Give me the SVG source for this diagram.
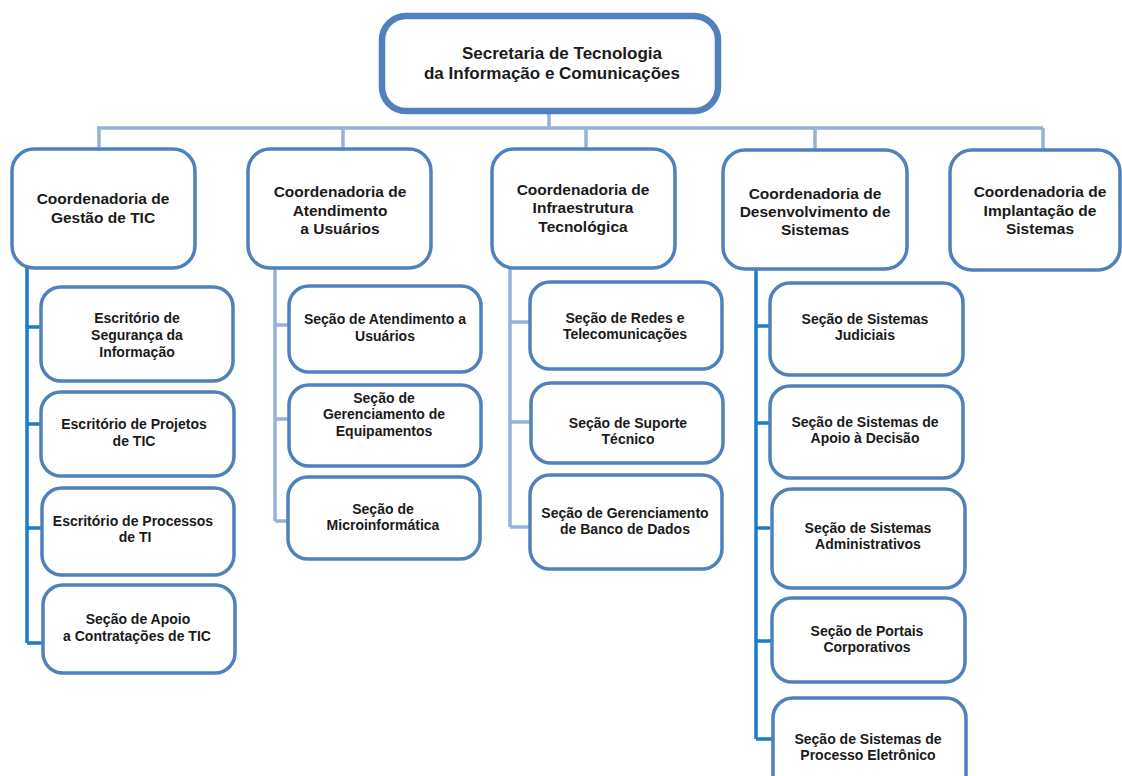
<svg xmlns="http://www.w3.org/2000/svg" width="1122" height="776" viewBox="0 0 1122 776">
<style>
  .box{fill:#ffffff;stroke:#4F81BD;stroke-width:3.5}
  .top{fill:#ffffff;stroke:#4F81BD;stroke-width:6.5}
  .lc{fill:none;stroke:#95B3D7;stroke-width:3.5}
  .dc{fill:none;stroke:#1C7CC8;stroke-width:3.5}
  text{font-family:"Liberation Sans",Arial,sans-serif;font-weight:bold;fill:#1a1a1a;text-anchor:middle}
  .t0{font-size:17px}
  .t1{font-size:15.5px}
  .t2{font-size:14px}
</style>
<rect width="1122" height="776" fill="#ffffff"/>
<g id="connectors">
  <path class="lc" d="M549 112V128M97 128H1043M99 128V150M343 128V150M586 128V150M815 128V150M1043 128V150"/>
  <path class="dc" d="M27 268V643M27 327H42M27 424H42M27 528H42M27 643H44"/>
  <path class="lc" d="M275 268V521M275 325H289M275 419H289M275 521H289"/>
  <path class="lc" d="M510 268V527M510 322H530M510 422H530M510 527H530"/>
  <path class="dc" d="M756 268V739M756 326H770M756 423H770M756 528H770M756 641H772M756 739H772"/>
</g>
<g id="n0"><rect class="top" x="382" y="16" width="336" height="95" rx="24"/>
  <text class="t0" x="562" y="59">Secretaria de Tecnologia</text>
  <text class="t0" x="552" y="79">da Informação e Comunicações</text></g>
<g id="c1"><rect class="box" x="12" y="149" width="183" height="119" rx="22"/>
  <text class="t1" x="103" y="204">Coordenadoria de</text>
  <text class="t1" x="103" y="223">Gestão de TIC</text></g>
<g id="c2"><rect class="box" x="248" y="149" width="183" height="119" rx="22"/>
  <text class="t1" x="340" y="197">Coordenadoria de</text>
  <text class="t1" x="340" y="216">Atendimento</text>
  <text class="t1" x="340" y="234">a Usuários</text></g>
<g id="c3"><rect class="box" x="492" y="149" width="183" height="119" rx="22"/>
  <text class="t1" x="583" y="195">Coordenadoria de</text>
  <text class="t1" x="583" y="213">Infraestrutura</text>
  <text class="t1" x="583" y="232">Tecnológica</text></g>
<g id="c4"><rect class="box" x="723" y="150" width="184" height="119" rx="22"/>
  <text class="t1" x="815" y="199">Coordenadoria de</text>
  <text class="t1" x="815" y="217">Desenvolvimento de</text>
  <text class="t1" x="815" y="235">Sistemas</text></g>
<g id="c5"><rect class="box" x="950" y="150" width="170" height="120" rx="22"/>
  <text class="t1" x="1040" y="197">Coordenadoria de</text>
  <text class="t1" x="1040" y="216">Implantação de</text>
  <text class="t1" x="1040" y="234">Sistemas</text></g>
<g id="s11"><rect class="box" x="41" y="287" width="192" height="94" rx="20"/>
  <text class="t2" x="137" y="323">Escritório de</text>
  <text class="t2" x="137" y="340">Segurança da</text>
  <text class="t2" x="137" y="357">Informação</text></g>
<g id="s12"><rect class="box" x="41" y="392" width="193" height="84" rx="20"/>
  <text class="t2" x="134" y="429">Escritório de Projetos</text>
  <text class="t2" x="134" y="446">de TIC</text></g>
<g id="s13"><rect class="box" x="42" y="488" width="192" height="87" rx="20"/>
  <text class="t2" x="133" y="526">Escritório de Processos</text>
  <text class="t2" x="135" y="542">de TI</text></g>
<g id="s14"><rect class="box" x="43" y="585" width="192" height="88" rx="20"/>
  <text class="t2" x="138" y="624">Seção de Apoio</text>
  <text class="t2" x="137" y="641">a Contratações de TIC</text></g>
<g id="s21"><rect class="box" x="289" y="286" width="192" height="86" rx="20"/>
  <text class="t2" x="385" y="324">Seção de Atendimento a</text>
  <text class="t2" x="385" y="341">Usuários</text></g>
<g id="s22"><rect class="box" x="289" y="385" width="192" height="81" rx="20"/>
  <text class="t2" x="384" y="403">Seção de</text>
  <text class="t2" x="384" y="419">Gerenciamento de</text>
  <text class="t2" x="384" y="436">Equipamentos</text></g>
<g id="s23"><rect class="box" x="288" y="477" width="192" height="82" rx="20"/>
  <text class="t2" x="383" y="514">Seção de</text>
  <text class="t2" x="383" y="530">Microinformática</text></g>
<g id="s31"><rect class="box" x="530" y="282" width="192" height="87" rx="20"/>
  <text class="t2" x="625" y="323">Seção de Redes e</text>
  <text class="t2" x="625" y="339">Telecomunicações</text></g>
<g id="s32"><rect class="box" x="531" y="383" width="192" height="80" rx="20"/>
  <text class="t2" x="628" y="428">Seção de Suporte</text>
  <text class="t2" x="628" y="444">Técnico</text></g>
<g id="s33"><rect class="box" x="530" y="475" width="192" height="94" rx="20"/>
  <text class="t2" x="625" y="518">Seção de Gerenciamento</text>
  <text class="t2" x="625" y="534">de Banco de Dados</text></g>
<g id="s41"><rect class="box" x="770" y="283" width="193" height="92" rx="20"/>
  <text class="t2" x="865" y="324">Seção de Sistemas</text>
  <text class="t2" x="865" y="340">Judiciais</text></g>
<g id="s42"><rect class="box" x="770" y="386" width="193" height="92" rx="20"/>
  <text class="t2" x="865" y="427">Seção de Sistemas de</text>
  <text class="t2" x="865" y="443">Apoio à Decisão</text></g>
<g id="s43"><rect class="box" x="772" y="489" width="193" height="99" rx="20"/>
  <text class="t2" x="868" y="533">Seção de Sistemas</text>
  <text class="t2" x="868" y="549">Administrativos</text></g>
<g id="s44"><rect class="box" x="772" y="598" width="193" height="84" rx="20"/>
  <text class="t2" x="867" y="636">Seção de Portais</text>
  <text class="t2" x="867" y="652">Corporativos</text></g>
<g id="s45"><rect class="box" x="773" y="698" width="193" height="100" rx="20"/>
  <text class="t2" x="868" y="744">Seção de Sistemas de</text>
  <text class="t2" x="868" y="760">Processo Eletrônico</text></g>
</svg>
